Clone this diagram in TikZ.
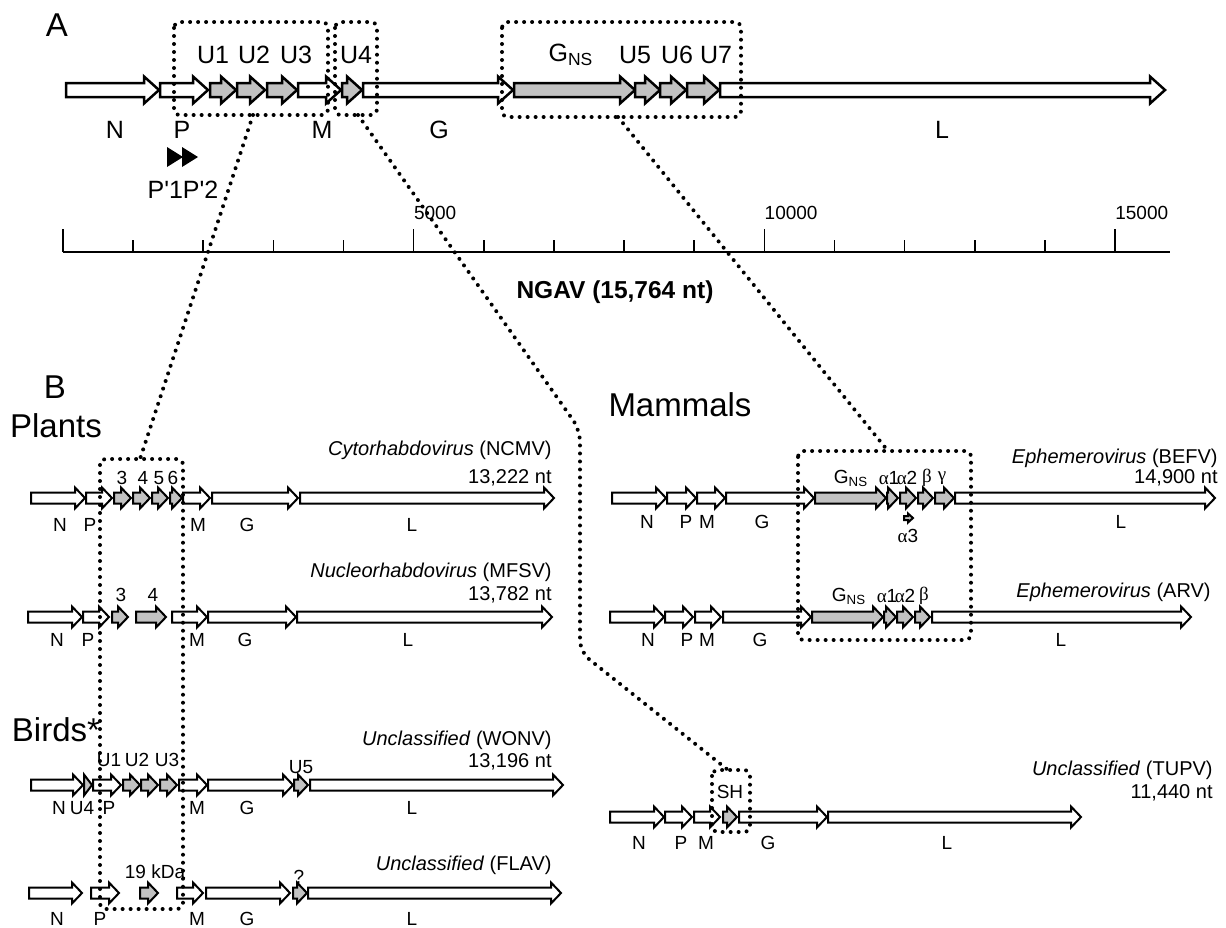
\documentclass[tikz,border=0pt]{standalone}
\usepackage{fontspec}
\setmainfont{Liberation Sans}
\newfontfamily\greekfont{Liberation Serif}
\usepackage{tikz}

\definecolor{genegrey}{gray}{0.76}
\newcommand{\gb}{5.5}
\newcommand{\gh}{10.5}
\newcommand{\gl}{10}
\newcommand{\gene}[4][white]{%
  \pgfmathsetmacro{\hx}{max(#2,#3-\gl)}%
  \draw[genearrow,fill=#1] (#2,#4-\gb) -- (\hx,#4-\gb) -- (\hx,#4-\gh) -- (#3,#4)
    -- (\hx,#4+\gh) -- (\hx,#4+\gb) -- (#2,#4+\gb) -- cycle;}
\newcommand{\ga}{{\greekfont α}}

\tikzset{
  genearrow/.style={draw=black,line width=1pt,line join=miter},
  zoomline/.style={line width=2pt,dash pattern=on 0pt off 4pt,line cap=round},
  zoombox/.style={zoomline,rounded corners=3pt},
  biglbl/.style={font=\fontsize{16.5}{19}\selectfont},
  toplbl/.style={font=\fontsize{12.5}{15}\selectfont},
  lbl/.style={font=\fontsize{9.5}{11}\selectfont},
  ttl/.style={font=\fontsize{10}{12}\selectfont,anchor=east,inner sep=0pt},
  scl/.style={font=\fontsize{9.5}{11}\selectfont,anchor=west,inner sep=0pt},
}

\begin{document}
\begin{tikzpicture}[x=0.5pt,y=-0.5pt]
\useasboundingbox (0,0) rectangle (1226,927);

\begin{scope}[genearrow/.append style={line width=1.25pt}]
\renewcommand{\gb}{7}\renewcommand{\gh}{13.5}\renewcommand{\gl}{15}
\gene{66}{159}{90}
\gene{160}{208}{90}
\gene[genegrey]{210}{236}{90}
\gene[genegrey]{237}{265}{90}
\gene[genegrey]{267}{297}{90}
\gene{298}{341}{90}
\gene[genegrey]{342}{362}{90}
\gene{363}{513}{90}
\gene[genegrey]{514}{635}{90}
\gene[genegrey]{635}{660}{90}
\gene[genegrey]{660}{686}{90}
\gene[genegrey]{687}{719}{90}
\gene{720}{1165}{90}
\end{scope}
\node[biglbl] (labA) at (57,25) {A};
\node[toplbl] (aU1) at (213,55) {U1};
\node[toplbl] (aU2) at (254,55) {U2};
\node[toplbl] (aU3) at (296,55) {U3};
\node[toplbl] (aU4) at (356,55) {U4};
\node[toplbl] (aGns) at (571,55) {G\textsubscript{NS}};
\node[toplbl] (aU5) at (635,55) {U5};
\node[toplbl] (aU6) at (677,55) {U6};
\node[toplbl] (aU7) at (716,55) {U7};
\node[toplbl] (aN) at (115,130) {N};
\node[toplbl] (aP) at (182,130) {P};
\node[toplbl] (aM) at (322,130) {M};
\node[toplbl] (aG) at (439,130) {G};
\node[toplbl] (aL) at (942,130) {L};
\fill (167,147) -- (183,157) -- (167,167) -- cycle;
\fill (182,147) -- (198,157) -- (182,167) -- cycle;
\node[toplbl] (aPp) at (183,190) {P\textquotesingle1P\textquotesingle2};

\draw[line width=1.3pt] (63,252) -- (1170,252);
\foreach \k in {1,...,4,6,7,8,9,11,12,13,14}
  \draw[line width=0.8pt] (63+70.13*\k,252) -- ++(0,-12);
\foreach \k in {0,5,10,15}
  \draw[line width=0.8pt] (63+70.13*\k,252) -- ++(0,-23);
\foreach \k/\v in {5/5000,10/10000,15/15000}
  \node[scl] (s\v) at (63+70.13*\k,213) {\v};
\node[font=\bfseries\fontsize{12.25}{14}\selectfont] (ngav) at (615,292) {NGAV (15,764 nt)};

\node[biglbl] (labB) at (55,387) {B};
\node[biglbl] (plants) at (56,426) {Plants};
\node[biglbl] (birds) at (56,730) {Birds*};
\node[biglbl] (mammals) at (680,405) {Mammals};

% NCMV
\gene{31}{85}{498}
\gene{86}{112}{498}
\gene[genegrey]{114}{131}{498}
\gene[genegrey]{133}{150}{498}
\gene[genegrey]{152}{168}{498}
\gene[genegrey]{170}{182}{498}
\gene{183}{210}{498}
\gene{212}{298}{498}
\gene{300}{554}{498}
\node[lbl] (nc3) at (122,478) {3};
\node[lbl] (nc4) at (143,478) {4};
\node[lbl] (nc5) at (159,478) {5};
\node[lbl] (nc6) at (173,478) {6};
\node[lbl] (ncN) at (60,525) {N};
\node[lbl] (ncP) at (90,525) {P};
\node[lbl] (ncM) at (198,525) {M};
\node[lbl] (ncG) at (247,525) {G};
\node[lbl] (ncL) at (412,525) {L};
\node[ttl] (ncT) at (552,450) {\textit{Cytorhabdovirus} (NCMV)};
\node[ttl] (ncS) at (552,478) {13,222 nt};

% MFSV
\gene{28}{82}{617}
\gene{83}{109}{617}
\gene[genegrey]{112}{128}{617}
\gene[genegrey]{136}{166}{617}
\gene{172}{207}{617}
\gene{208}{296}{617}
\gene{297}{552}{617}
\node[lbl] (mf3) at (121,595) {3};
\node[lbl] (mf4) at (153,595) {4};
\node[lbl] (mfN) at (57,640) {N};
\node[lbl] (mfP) at (88,640) {P};
\node[lbl] (mfM) at (197,640) {M};
\node[lbl] (mfG) at (245,640) {G};
\node[lbl] (mfL) at (408,640) {L};
\node[ttl] (mfT) at (552,572) {\textit{Nucleorhabdovirus} (MFSV)};
\node[ttl] (mfS) at (552,595) {13,782 nt};

% WONV
\gene{31}{83}{785}
\gene[genegrey]{84}{92}{785}
\gene{93}{121}{785}
\gene[genegrey]{123}{140}{785}
\gene[genegrey]{141}{158}{785}
\gene[genegrey]{160}{177}{785}
\gene{179}{207}{785}
\gene{208}{293}{785}
\gene[genegrey]{294}{308}{785}
\gene{310}{563}{785}
\node[lbl] (woU1) at (109,760) {U1};
\node[lbl] (woU2) at (137,760) {U2};
\node[lbl] (woU3) at (167,760) {U3};
\node[lbl] (woU5) at (301,767) {U5};
\node[lbl] (woN) at (59,808) {N};
\node[lbl] (woU4) at (82,808) {U4};
\node[lbl] (woP) at (109,808) {P};
\node[lbl] (woM) at (197,808) {M};
\node[lbl] (woG) at (247,808) {G};
\node[lbl] (woL) at (412,808) {L};
\node[ttl] (woT) at (552,740) {\textit{Unclassified} (WONV)};
\node[ttl] (woS) at (552,762) {13,196 nt};

% FLAV
\gene{29}{82}{893}
\gene{91}{119}{893}
\gene[genegrey]{140}{158}{893}
\gene{177}{203}{893}
\gene{206}{290}{893}
\gene[genegrey]{293}{307}{893}
\gene{308}{561}{893}
\node[lbl] (fl19) at (155,872) {19 kDa};
\node[lbl] (flQ) at (299,877) {?};
\node[lbl] (flN) at (57,919) {N};
\node[lbl] (flP) at (100,919) {P};
\node[lbl] (flM) at (197,919) {M};
\node[lbl] (flG) at (247,919) {G};
\node[lbl] (flL) at (412,919) {L};
\node[ttl] (flT) at (552,865) {\textit{Unclassified} (FLAV)};

% BEFV
\gene{612}{666}{498}
\gene{667}{696}{498}
\gene{697}{725}{498}
\gene{726}{814}{498}
\gene[genegrey]{815}{886}{498}
\gene[genegrey]{887}{898}{498}
\gene[genegrey]{900}{916}{498}
\gene[genegrey]{918}{933}{498}
\gene[genegrey]{935}{954}{498}
\gene{955}{1215}{498}
\begin{scope}
\renewcommand{\gb}{2}\renewcommand{\gh}{4.5}\renewcommand{\gl}{5}
\gene[genegrey]{904}{913}{518}
\end{scope}
\node[lbl] (beGns) at (851,478) {G\textsubscript{NS}};
\node[lbl] (bea1) at (889,478) {\ga1};
\node[lbl] (bea2) at (907,478) {\ga2};
\node[lbl] (beb) at (927,478) {{\greekfont β}};
\node[lbl] (beg) at (942,478) {{\greekfont γ}};
\node[lbl] (bea3) at (908,536) {\ga3};
\node[lbl] (beN) at (647,522) {N};
\node[lbl] (beP) at (686,522) {P};
\node[lbl] (beM) at (707,522) {M};
\node[lbl] (beG) at (762,522) {G};
\node[lbl] (beL) at (1121,522) {L};
\node[ttl] (beT) at (1218,458) {\textit{Ephemerovirus} (BEFV)};
\node[ttl] (beS) at (1218,478) {14,900 nt};

% ARV
\gene{610}{664}{617}
\gene{665}{693}{617}
\gene{695}{721}{617}
\gene{723}{811}{617}
\gene[genegrey]{812}{883}{617}
\gene[genegrey]{884}{896}{617}
\gene[genegrey]{897}{913}{617}
\gene[genegrey]{915}{930}{617}
\gene{932}{1191}{617}
\node[lbl] (arGns) at (849,596) {G\textsubscript{NS}};
\node[lbl] (ara1) at (887,596) {\ga1};
\node[lbl] (ara2) at (905,596) {\ga2};
\node[lbl] (arb) at (924,596) {{\greekfont β}};
\node[lbl] (arN) at (648,640) {N};
\node[lbl] (arP) at (687,640) {P};
\node[lbl] (arM) at (707,640) {M};
\node[lbl] (arG) at (760,640) {G};
\node[lbl] (arL) at (1061,640) {L};
\node[ttl] (arT) at (1211,592) {\textit{Ephemerovirus} (ARV)};

% TUPV
\gene{610}{664}{817}
\gene{665}{692}{817}
\gene{694}{720}{817}
\gene[genegrey]{723}{737}{817}
\gene{739}{827}{817}
\gene{828}{1081}{817}
\node[lbl] (tuSH) at (730,792) {SH};
\node[lbl] (tuN) at (639,843) {N};
\node[lbl] (tuP) at (681,843) {P};
\node[lbl] (tuM) at (706,843) {M};
\node[lbl] (tuG) at (768,843) {G};
\node[lbl] (tuL) at (947,843) {L};
\node[ttl] (tuT) at (1213,770) {\textit{Unclassified} (TUPV)};
\node[ttl] (tuS) at (1213,793) {11,440 nt};

% zoom boxes and links
\draw[zoombox] (174,22) rectangle (328,115);
\draw[zoombox] (335,22) rectangle (377,115);
\draw[zoombox] (502,22) rectangle (741,117);
\draw[zoombox] (100,459) rectangle (183,909);
\draw[zoombox] (798,451) rectangle (971,640);
\draw[zoombox] (712,770) rectangle (750,832);
\coordinate (boxAs) at (253,115);
\coordinate (boxBs) at (358,115);
\coordinate (boxCs) at (618,117);
\coordinate (plantsT) at (140,459);
\coordinate (mamT) at (888,451);
\coordinate (bendA) at (580,430);
\coordinate (bendB) at (580,652);
\coordinate (shT) at (728,770);
\draw[zoomline] (boxAs) -- (plantsT);
\draw[zoomline] (boxCs) -- (mamT);
\draw[zoomline,rounded corners=6pt] (boxBs) -- (bendA) -- (bendB) -- (shT);
\end{tikzpicture}
\end{document}
